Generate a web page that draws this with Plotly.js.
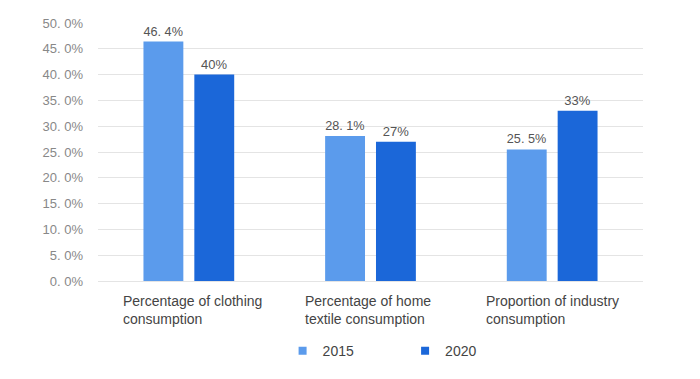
<!DOCTYPE html>
<html>
<head>
<meta charset="utf-8">
<script src="https://cdn.plot.ly/plotly-3.0.1.min.js"></script>
<style>html,body{margin:0;padding:0;background:#fff;}#chart{width:700px;height:379px;}</style>
</head>
<body>
<div id="chart"></div>
<script>
const categories = ["Percentage of clothing<br>consumption", "Percentage of home<br>textile consumption", "Proportion of industry<br>consumption"];
const catKeys = ["clothing", "home", "industry"];
const seriesNames = ["2015", "2020"];
const values2015 = [46.4, 28.1, 25.5];
const values2020 = [40, 27, 33];
const labels2015 = ["46. 4%", "28. 1%", "25. 5%"];
const labels2020 = ["40%", "27%", "33%"];
const yTickVals = [0, 5, 10, 15, 20, 25, 30, 35, 40, 45, 50];
const yTickText = ["0. 0%", "5. 0%", "10. 0%", "15. 0%", "20. 0%", "25. 0%", "30. 0%", "35. 0%", "40. 0%", "45. 0%", "50. 0%"];

const font = "Liberation Sans, Arial, sans-serif";
const colors = ["#5b9bec", "#1b67d9"];

const traces = [
  {type: "bar", name: seriesNames[0], x: catKeys, y: values2015, text: labels2015,
   textposition: "outside", cliponaxis: false, showlegend: false, legendgroup: "a",
   textfont: {family: font, size: 13, color: "#555"},
   marker: {color: colors[0]}, hoverinfo: "none"},
  {type: "bar", name: seriesNames[1], x: catKeys, y: values2020, text: labels2020,
   textposition: "outside", cliponaxis: false, showlegend: false, legendgroup: "b",
   textfont: {family: font, size: 13, color: "#555"},
   marker: {color: colors[1]}, hoverinfo: "none"},
  {type: "scatter", mode: "markers", name: seriesNames[0], x: [null], y: [null], legendgroup: "a",
   marker: {symbol: "square", size: 8, color: colors[0]}, hoverinfo: "none"},
  {type: "scatter", mode: "markers", name: seriesNames[1], x: [null], y: [null], legendgroup: "b",
   marker: {symbol: "square", size: 8, color: colors[1]}, hoverinfo: "none"}
];

const annotations = catKeys.map((k, i) => ({
  x: k, xref: "x", y: 0, yref: "paper", yanchor: "top", xanchor: "left",
  xshift: -68, yshift: -10, align: "left", showarrow: false,
  text: categories[i], font: {family: font, size: 14, color: "#444"}
}));

const layout = {
  width: 700, height: 379,
  margin: {l: 98, r: 57, t: 23, b: 98},
  paper_bgcolor: "#fff", plot_bgcolor: "#fff",
  barmode: "group", bargap: 0.44, bargroupgap: 0.216,
  showlegend: true,
  legend: {orientation: "h", x: 0.3387, xanchor: "left", y: -0.272, yanchor: "middle",
           font: {family: font, size: 14, color: "#444"}, entrywidth: 77.5, traceorder: "normal"},
  xaxis: {showticklabels: false, showgrid: false, zeroline: false, showline: false, ticks: ""},
  yaxis: {range: [0, 50], tickvals: yTickVals, ticktext: yTickText,
          tickfont: {family: font, size: 13, color: "#888"},
          gridcolor: "#e4e4e4", gridwidth: 1, zeroline: true, zerolinecolor: "#e4e4e4",
          showline: false, ticks: "", ticklabelstandoff: 14},
  annotations: annotations
};

Plotly.newPlot("chart", traces, layout, {staticPlot: true, displayModeBar: false});
</script>
</body>
</html>
